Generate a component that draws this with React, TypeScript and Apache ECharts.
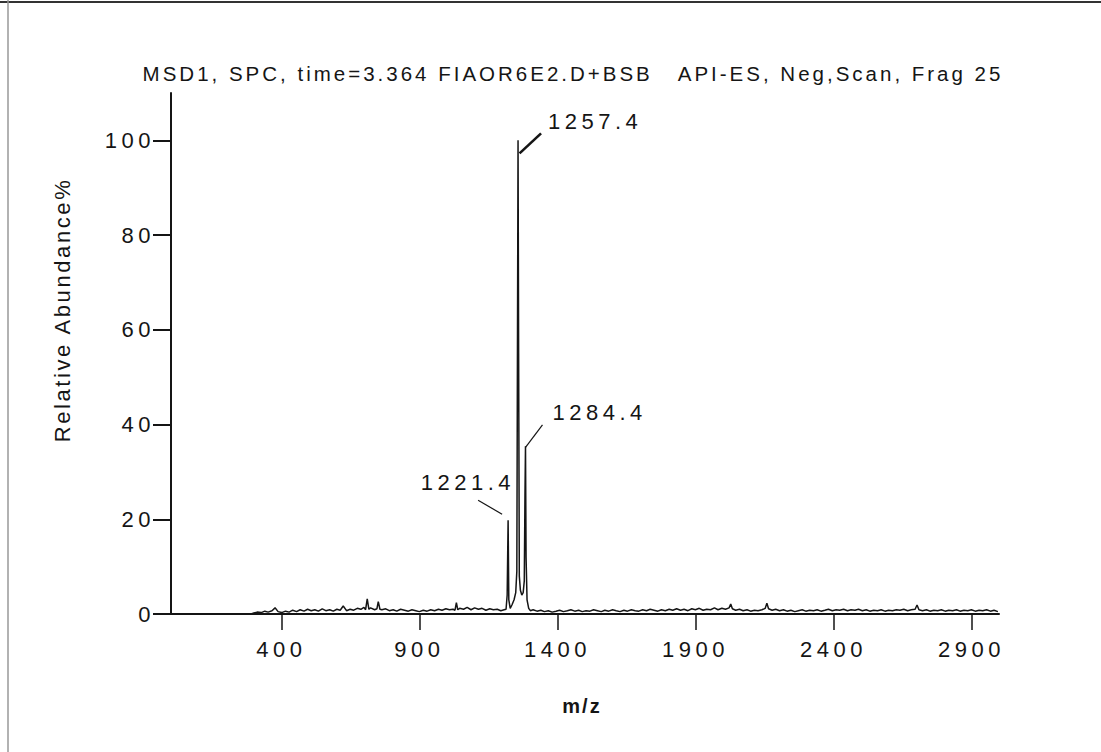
import React, { useEffect, useRef } from "react";
import * as echarts from "echarts";

const titleText = "MSD1, SPC, time=3.364 FIAOR6E2.D+BSB   API-ES, Neg,Scan, Frag 25";
const yAxisTitle = "Relative Abundance%";
const xAxisTitle = "m/z";
const xTickValues = [400, 900, 1400, 1900, 2400, 2900];
const yTickValues = [0, 20, 40, 60, 80, 100];

const peakMz = [1221.4, 1257.4, 1284.4];
const peakAbundance = [19.8, 100, 35.4];
const peakLabels = ["1221.4", "1257.4", "1284.4"];

const lowMassNoise: [number, number][] = [
  [0, 0], [100, 0], [200, 0], [290, 0], [300, 0.2], [312, 0.4], [327, 0.3], [340, 0.6], [352, 0.4],
  [366, 0.7], [377, 1.3], [388, 0.5], [401, 0.3], [415, 0.6], [428, 0.4], [441, 0.8], [455, 0.5],
  [468, 0.9], [482, 0.6], [495, 1.0], [508, 0.7], [521, 0.9], [534, 0.6], [548, 1.1], [561, 0.7],
  [575, 0.9], [588, 0.6], [601, 1.0], [613, 0.8], [624, 1.7], [636, 0.7], [649, 1.0], [662, 0.8],
  [675, 1.2], [688, 1.0], [699, 1.4], [705, 0.9], [711, 3.2], [717, 1.0], [723, 1.3], [738, 0.9],
  [746, 1.1], [751, 2.6], [757, 1.0], [764, 0.9], [778, 1.1], [791, 0.7], [805, 0.9], [818, 0.6],
  [832, 1.0], [846, 0.8], [860, 0.6], [873, 0.9], [887, 0.7], [900, 0.5], [914, 0.8], [928, 0.6],
  [941, 0.9], [955, 0.7], [969, 1.0], [982, 0.8], [996, 1.1], [1009, 0.9], [1022, 1.0], [1029, 0.8],
  [1034, 2.4], [1039, 0.9], [1046, 1.2], [1060, 1.0], [1073, 1.4], [1087, 0.9], [1100, 1.3],
  [1114, 1.0], [1127, 1.2], [1141, 0.8], [1155, 1.1], [1168, 0.9], [1182, 1.0], [1195, 0.7], [1207, 0.9],
];

const clusterProfile: [number, number][] = [
  [1214, 1.0], [1218, 4], [1221.4, 19.8], [1224, 3], [1229, 1.2], [1236, 2.0], [1243, 3.0],
  [1249, 4.5], [1253, 9], [1255.5, 60], [1257.4, 100], [1259.5, 55], [1262, 8], [1266, 5],
  [1271, 4], [1276, 4.5], [1280, 7], [1282.5, 25], [1284.4, 35.4], [1286.5, 12], [1290, 3],
  [1296, 1.2], [1302, 0.7],
];

const highMassNoise: [number, number][] = [
  [1312, 0.9], [1326, 0.6], [1340, 0.8], [1353, 0.5], [1367, 0.7], [1381, 0.4], [1395, 0.6],
  [1408, 0.8], [1422, 0.5], [1436, 0.7], [1449, 0.9], [1463, 0.6], [1477, 0.8], [1490, 0.5],
  [1504, 0.7], [1518, 0.6], [1531, 0.9], [1545, 0.7], [1559, 0.5], [1572, 0.8], [1586, 0.6],
  [1600, 0.9], [1613, 0.7], [1627, 0.5], [1641, 0.8], [1654, 0.6], [1668, 0.9], [1682, 0.7],
  [1695, 0.6], [1709, 0.9], [1723, 0.7], [1736, 1.0], [1750, 0.8], [1764, 0.6], [1777, 0.9],
  [1791, 0.7], [1805, 1.0], [1818, 0.8], [1832, 1.1], [1846, 0.8], [1859, 1.0], [1873, 0.7],
  [1887, 1.1], [1900, 0.9], [1914, 1.2], [1928, 0.8], [1941, 1.0], [1955, 0.9], [1969, 1.3],
  [1982, 0.9], [1996, 1.2], [2009, 1.0], [2022, 1.3], [2028, 2.1], [2034, 1.1], [2046, 0.8],
  [2060, 1.0], [2073, 0.7], [2087, 0.9], [2100, 0.6], [2114, 0.8], [2127, 0.7], [2141, 0.9],
  [2153, 1.2], [2159, 2.3], [2165, 1.1], [2178, 0.8], [2191, 1.0], [2205, 0.7], [2219, 0.9],
  [2232, 0.6], [2246, 0.8], [2260, 0.5], [2273, 0.7], [2287, 0.9], [2300, 0.6], [2314, 0.8],
  [2328, 0.7], [2341, 0.9], [2355, 0.6], [2369, 0.8], [2382, 1.0], [2396, 0.7], [2410, 0.9],
  [2423, 0.8], [2437, 1.0], [2451, 0.7], [2464, 0.9], [2478, 0.8], [2491, 1.0], [2505, 0.7],
  [2519, 0.9], [2532, 0.6], [2546, 0.8], [2560, 0.7], [2573, 0.9], [2587, 0.6], [2600, 0.8],
  [2614, 0.7], [2628, 0.9], [2641, 0.8], [2655, 1.0], [2669, 0.7], [2682, 0.9], [2696, 1.0],
  [2703, 1.9], [2710, 0.9], [2723, 0.7], [2737, 0.9], [2750, 0.6], [2764, 0.8], [2778, 0.7],
  [2791, 0.9], [2805, 0.6], [2818, 0.8], [2832, 0.7], [2846, 0.9], [2859, 0.6], [2873, 0.8],
  [2887, 0.7], [2900, 0.9], [2914, 0.6], [2928, 0.8], [2941, 0.7], [2955, 0.9], [2969, 0.6],
  [2982, 0.8], [2996, 0.5],
];

const FONT = "'Liberation Sans', Arial, sans-serif";
const INK = "#151515";

// label placement offsets (pixels relative to the peak top)
const labelLayouts = [
  { line: [-30, -20, -6, -6], tx: 7, ty: -38, align: "right", width: 1.2 },
  { line: [1.5, 13, 23, -7], tx: 30, ty: -19, align: "left", width: 2.6 },
  { line: [0, 1, 17, -21.5], tx: 27, ty: -34, align: "left", width: 1.2 },
];

function spacingFor(t: string): number {
  if (t === titleText) return 3.0;
  if (t === yAxisTitle) return 2.6;
  if (t === xAxisTitle) return 2;
  return 4.5;
}

export default function App() {
  const ref = useRef<HTMLDivElement>(null);

  useEffect(() => {
    document.body.style.margin = "0";
    document.body.style.overflow = "hidden";
    const el = ref.current!;
    const chart = echarts.init(el, undefined, { renderer: "svg" });

    const applySpacing = () => {
      el.querySelectorAll("text").forEach((n) => {
        n.setAttribute("letter-spacing", String(spacingFor(n.textContent || "")));
      });
    };

    chart.setOption({
      animation: false,
      backgroundColor: "#ffffff",
      grid: { left: 171, right: 102, top: 93, bottom: 138 },
      xAxis: {
        type: "value",
        min: 0,
        max: 3000,
        axisLine: { show: true, onZero: false, lineStyle: { color: INK, width: 2 } },
        axisTick: { show: true, customValues: xTickValues, length: 16, lineStyle: { color: INK, width: 1.5 } },
        axisLabel: {
          customValues: xTickValues, fontSize: 22, fontFamily: FONT, color: INK, margin: 24,
          formatter: (v: number) => String(v),
        },
        splitLine: { show: false },
      },
      yAxis: {
        type: "value",
        min: 0,
        max: 110,
        axisLine: { show: true, lineStyle: { color: INK, width: 2 } },
        axisTick: { show: true, customValues: yTickValues, length: 18, lineStyle: { color: INK, width: 2 } },
        axisLabel: {
          customValues: yTickValues, fontSize: 22, fontFamily: FONT, color: INK, margin: 16,
          formatter: (v: number) => String(v),
        },
        splitLine: { show: false },
      },
      series: [
        {
          type: "line",
          data: [...lowMassNoise, ...clusterProfile, ...highMassNoise],
          showSymbol: false,
          symbol: "none",
          lineStyle: { color: INK, width: 1.5 },
          silent: true,
          clip: true,
        },
      ],
      graphic: [
        { type: "line", id: "topBorder", shape: { x1: 0, y1: 2, x2: 1101, y2: 2 }, style: { stroke: "#333", lineWidth: 2 } },
        { type: "line", id: "leftBorder", shape: { x1: 8, y1: 0, x2: 8, y2: 752 }, style: { stroke: "#999", lineWidth: 1.5 } },
        {
          type: "text", id: "title", x: 573, y: 73,
          style: { text: titleText, fontSize: 20.5, fontFamily: FONT, fill: INK, align: "center", verticalAlign: "middle" },
        },
        {
          type: "text", id: "yname", x: 62, y: 310, rotation: Math.PI / 2,
          style: { text: yAxisTitle, fontSize: 22, fontFamily: FONT, fill: INK, align: "center", verticalAlign: "middle" },
        },
        {
          type: "text", id: "xname", x: 582, y: 706,
          style: { text: xAxisTitle, fontSize: 20, fontWeight: "bold", fontFamily: FONT, fill: INK, align: "center", verticalAlign: "middle" },
        },
      ],
    });

    const extra: any[] = [];
    peakMz.forEach((m, i) => {
      const p = chart.convertToPixel({ gridIndex: 0 }, [m, peakAbundance[i]]) as number[];
      const L = labelLayouts[i];
      extra.push({
        type: "line", id: "lead" + i,
        shape: { x1: p[0] + L.line[0], y1: p[1] + L.line[1], x2: p[0] + L.line[2], y2: p[1] + L.line[3] },
        style: { stroke: INK, lineWidth: L.width },
      });
      extra.push({
        type: "text", id: "plab" + i, x: p[0] + L.tx, y: p[1] + L.ty,
        style: { text: peakLabels[i], fontSize: 22, fontFamily: FONT, fill: INK, align: L.align, verticalAlign: "middle" },
      });
    });
    chart.setOption({ graphic: extra });

    chart.on("finished", applySpacing);
    applySpacing();
    const t = setTimeout(applySpacing, 50);

    return () => {
      clearTimeout(t);
      chart.dispose();
    };
  }, []);

  return (
    <>
      <style>{"svg text { white-space: pre; }"}</style>
      <div ref={ref} style={{ width: 1101, height: 752 }} />
    </>
  );
}
